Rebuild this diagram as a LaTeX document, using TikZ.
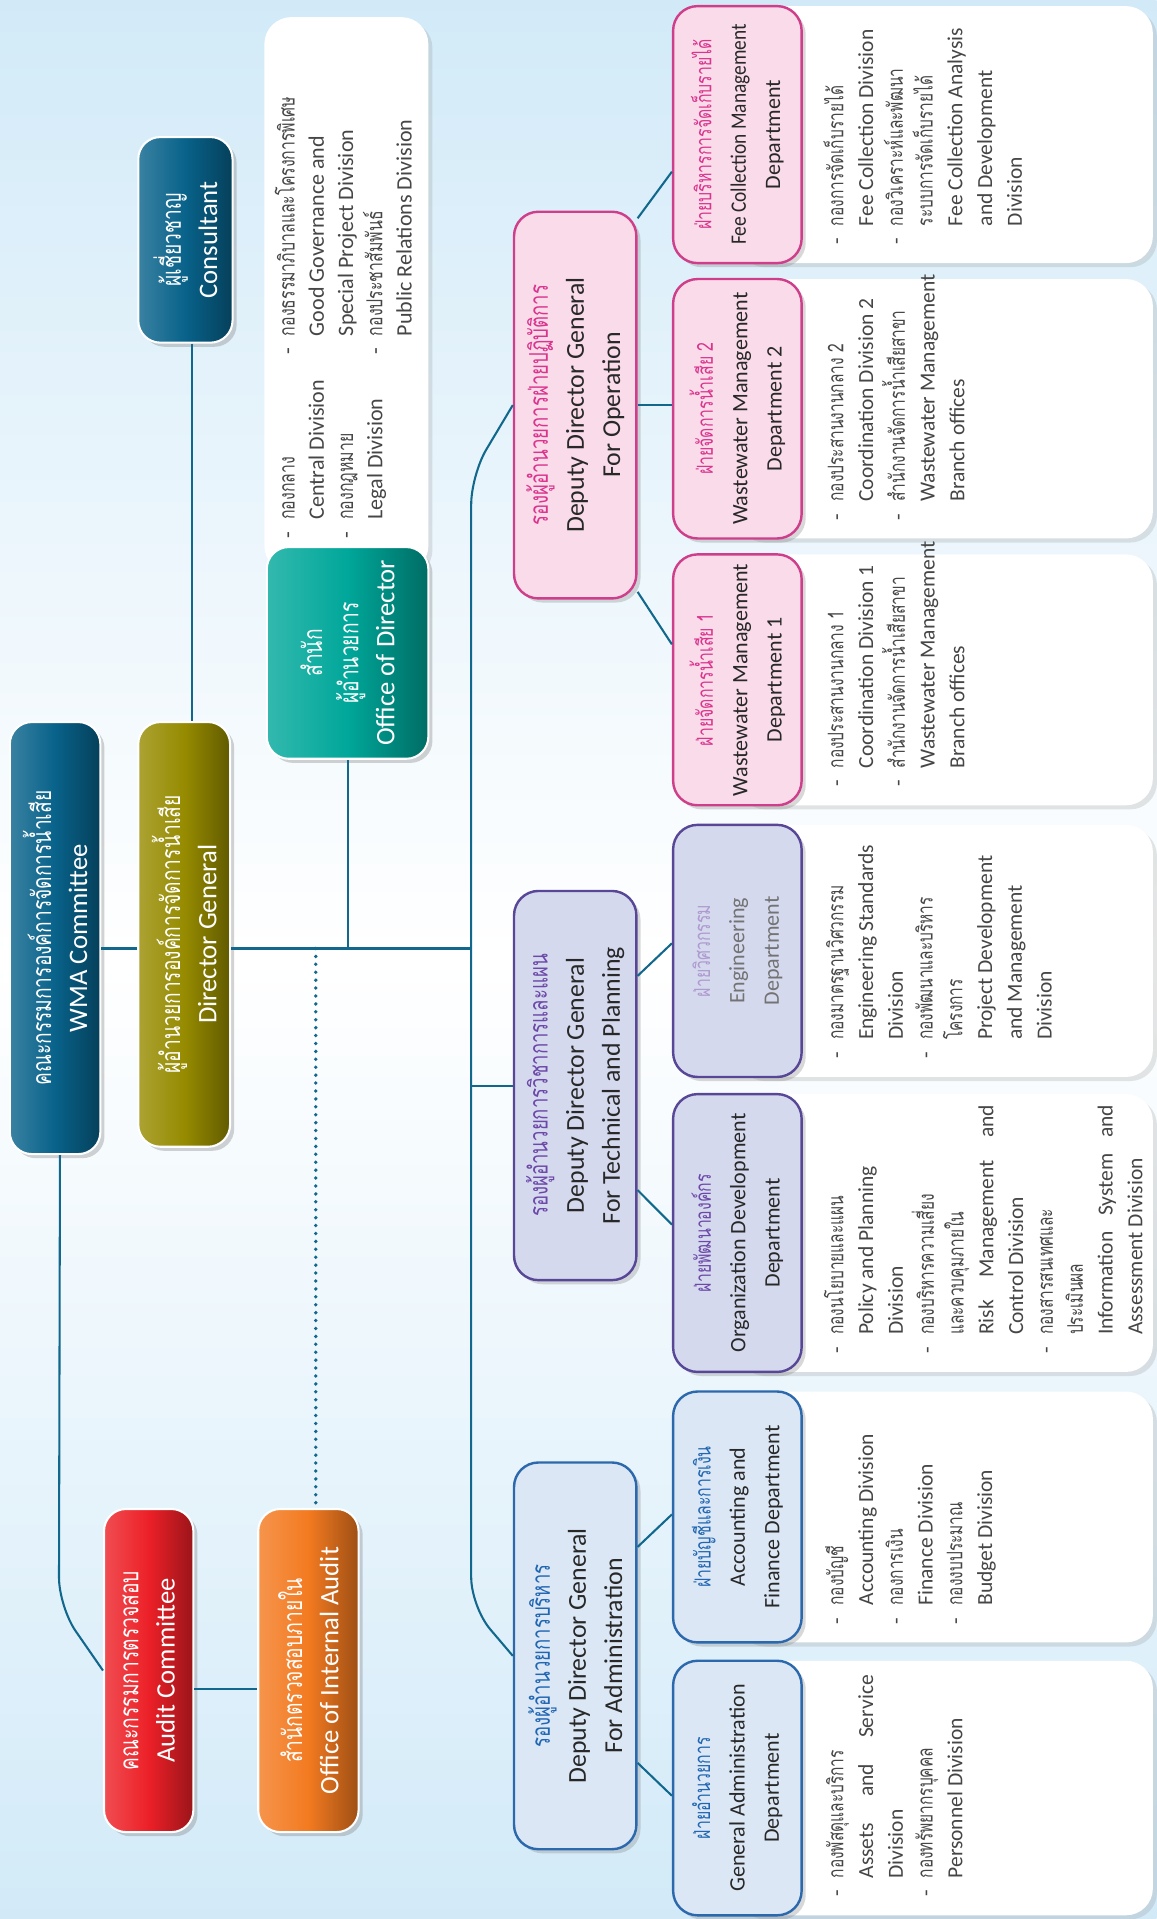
\documentclass[tikz,border=0pt]{standalone}
\usepackage{fontspec}
\setmainfont{Carlito}
\newfontfamily\thaifont[Script=Thai,Scale=1.0,FakeStretch=0.72]{Loma}
\newcommand{\thai}[1]{{\thaifont #1}}
\usetikzlibrary{positioning,calc,shadows}

\definecolor{bgblue}{RGB}{210,234,248}
\definecolor{linkcol}{RGB}{17,104,140}
\definecolor{wmablue}{RGB}{8,98,138}
\definecolor{dgolive}{RGB}{150,139,0}
\definecolor{odteal}{RGB}{0,167,154}
\definecolor{auditred}{RGB}{236,32,39}
\definecolor{iaorange}{RGB}{243,122,32}
\definecolor{admfill}{RGB}{219,231,245}
\definecolor{admline}{RGB}{44,104,172}
\definecolor{admtext}{RGB}{32,102,178}
\definecolor{techfill}{RGB}{213,217,238}
\definecolor{techline}{RGB}{88,70,150}
\definecolor{techtext}{RGB}{108,72,168}
\definecolor{opfill}{RGB}{249,219,233}
\definecolor{opline}{RGB}{206,62,138}
\definecolor{optext}{RGB}{218,52,142}
\definecolor{deptext}{RGB}{40,40,40}
\definecolor{engtext}{RGB}{115,115,115}
\definecolor{divtextcol}{RGB}{70,70,70}

\def\bu{0.025cm}
\tikzstyle{headbox} = [rounded corners=0.45cm, draw=white, line width=1.2pt, text=white,
    align=center, inner sep=0pt, drop shadow={opacity=0.35}, font=\fontsize{15.5}{21}\selectfont]
\tikzstyle{deputy} = [rounded corners=0.5cm, line width=1.4pt, align=center, inner sep=0pt,
    text=deptext, drop shadow={opacity=0.3}, font=\fontsize{15}{21}\selectfont]
\tikzstyle{dept} = [rounded corners=0.5cm, line width=1.4pt, align=center, inner sep=0pt,
    text=deptext, drop shadow={opacity=0.3}, font=\fontsize{12.8}{20}\selectfont]
\tikzstyle{divbox} = [rounded corners=0.55cm, fill=white, drop shadow={opacity=0.2}]
\tikzstyle{divtext} = [inner sep=0pt, align=left, text=divtextcol, font=\fontsize{12.5}{17.3}\selectfont]
\tikzstyle{odivtext} = [inner sep=0pt, align=left, text=divtextcol, font=\fontsize{12.8}{17}\selectfont]
\tikzstyle{connector} = [draw=linkcol, line width=1.2pt]
\tikzstyle{dotline} = [draw=linkcol, line width=2.2pt, line cap=round, dash pattern=on 0pt off 4.6pt]
\tikzset{
  dims/.style 2 args={minimum width=#1*\bu, minimum height=#2*\bu},
  gloss/.style={left color=#1!80!white, right color=#1!65!black, middle color=#1},
  admcol/.style={draw=admline, fill=admfill},
  techcol/.style={draw=techline, fill=techfill},
  opcol/.style={draw=opline, fill=opfill},
}
\newcommand{\divlist}[1]{\begin{tabular}{@{}l@{\hspace{7pt}}l@{}}#1\end{tabular}}

\begin{document}
\begin{tikzpicture}[x=\bu, y=\bu]
	\useasboundingbox (0,0) rectangle (945,1568);
	\shade[top color=bgblue, bottom color=bgblue, middle color=white] (0,0) rectangle (945,1568);
	\begin{scope}[rotate=90, transform shape]
		% white division boxes
		\node[divbox, dims={454}{134}] (odiv) at (1327,-283) {};
		\node[divbox, dims={208}{342}] (gadiv) at (107,-771) {};
		\node[divbox, dims={205}{342}] (accdiv) at (328.5,-771) {};
		\node[divbox, dims={227}{342}] (odddiv) at (560.5,-771) {};
		\node[divbox, dims={206}{342}] (engdiv) at (791,-771) {};
		\node[divbox, dims={205}{342}] (wmadiv) at (1012.5,-771) {};
		\node[divbox, dims={212}{342}] (wmbdiv) at (1234,-771) {};
		\node[divbox, dims={210}{342}] (feediv) at (1458,-771) {};
		
		% top level
		\node[headbox, gloss=wmablue, dims={353}{74}] (wma) at (801.5,-45)
			{\thai{คณะกรรมการองค์การจัดการน้ำเสีย}\\WMA Committee};
		\node[headbox, gloss=dgolive, dims={347}{75}] (dg) at (804.5,-150.5)
			{\thai{ผู้อำนวยการองค์การจัดการน้ำเสีย}\\Director General};
		\node[headbox, gloss=wmablue, dims={168}{77}] (cons) at (1372,-151.5)
			{\thai{ผู้เชี่ยวชาญ}\\Consultant};
		\node[headbox, gloss=odteal, dims={173}{132}] (odir) at (1034.5,-284)
			{\thai{สำนัก}\\\thai{ผู้อำนวยการ}\\Office of Director};
		\node[headbox, gloss=auditred, dims={264}{73}] (audit) at (203,-121.5)
			{\thai{คณะกรรมการตรวจสอบ}\\Audit Committee};
		\node[headbox, gloss=iaorange, dims={264}{82}] (ia) at (203,-252)
			{\thai{สำนักตรวจสอบภายใน}\\Office of Internal Audit};
		
		% deputies
		\node[deputy, admcol, dims={316}{100}] (adm) at (215,-470)
			{\textcolor{admtext}{\thai{รองผู้อำนวยการบริหาร}}\\Deputy Director General\\For Administration};
		\node[deputy, techcol, dims={318}{100}] (tech) at (681,-470)
			{\textcolor{techtext}{\thai{รองผู้อำนวยการวิชาการและแผน}}\\Deputy Director General\\For Technical and Planning};
		\node[deputy, opcol, dims={316}{100}] (op) at (1237,-470)
			{\textcolor{optext}{\thai{รองผู้อำนวยการฝ่ายปฏิบัติการ}}\\Deputy Director General\\For Operation};
		
		% departments
		\node[dept, admcol, dims={208}{105}] (gad) at (107,-602.5)
			{\textcolor{admtext}{\thai{ฝ่ายอำนวยการ}}\\General Administration\\Department};
		\node[dept, admcol, dims={205}{105}] (acc) at (328.5,-602.5)
			{\textcolor{admtext}{\thai{ฝ่ายบัญชีและการเงิน}}\\Accounting and\\Finance Department};
		\node[dept, techcol, dims={227}{105}] (odd) at (560.5,-602.5)
			{\textcolor{techtext}{\thai{ฝ่ายพัฒนาองค์กร}}\\Organization Development\\Department};
		\node[dept, techcol, dims={206}{105}, text=engtext] (eng) at (791,-602.5)
			{\textcolor{techtext!55!white}{\thai{ฝ่ายวิศวกรรม}}\\Engineering\\Department};
		\node[dept, opcol, dims={205}{105}] (wma1) at (1012.5,-602.5)
			{\textcolor{optext}{\thai{ฝ่ายจัดการน้ำเสีย 1}}\\Wastewater Management\\Department 1};
		\node[dept, opcol, dims={212}{105}] (wma2) at (1234,-602.5)
			{\textcolor{optext}{\thai{ฝ่ายจัดการน้ำเสีย 2}}\\Wastewater Management\\Department 2};
		\node[dept, opcol, dims={210}{105}] (fee) at (1458,-602.5)
			{\textcolor{optext}{\thai{ฝ่ายบริหารการจัดเก็บรายได้}}\\\scalebox{0.88}[1]{Fee Collection Management}\\Department};
		
		% division texts
		\node[odivtext, below right=0.2cm and 0.7cm of odiv.north west] (odtxta)
			{\divlist{- & \thai{กองกลาง}\\ & Central Division\\ - & \thai{กองกฎหมาย}\\ & Legal Division}};
		\node[odivtext, below right=0.2cm and 4.45cm of odiv.north west] (odtxtb)
			{\divlist{- & \thai{กองธรรมาภิบาลและโครงการพิเศษ}\\ & Good Governance and\\ & Special Project Division\\
			- & \thai{กองประชาสัมพันธ์}\\ & Public Relations Division}};
		\node[divtext, below right=1.8cm and 0.375cm of gadiv.north west] (gatxt)
			{\divlist{- & \thai{กองพัสดุและบริการ}\\ & \makebox[4.15cm][s]{Assets and Service}\\ & Division\\
			- & \thai{กองทรัพยากรบุคคล}\\ & Personnel Division}};
		\node[divtext, below right=1.8cm and 0.375cm of accdiv.north west] (acctxt)
			{\divlist{- & \thai{กองบัญชี}\\ & Accounting Division\\ - & \thai{กองการเงิน}\\ & Finance Division\\
			- & \thai{กองงบประมาณ}\\ & Budget Division}};
		\node[divtext, below right=1.8cm and 0.375cm of odddiv.north west] (oddtxt)
			{\divlist{- & \thai{กองนโยบายและแผน}\\ & Policy and Planning\\ & Division\\
			- & \thai{กองบริหารความเสี่ยง}\\ & \thai{และควบคุมภายใน}\\ & \makebox[4.7cm][s]{Risk Management and}\\ & Control Division\\
			- & \thai{กองสารสนเทศและ}\\ & \thai{ประเมินผล}\\ & \makebox[4.7cm][s]{Information System and}\\ & Assessment Division}};
		\node[divtext, below right=1.8cm and 0.375cm of engdiv.north west] (engtxt)
			{\divlist{- & \thai{กองมาตรฐานวิศวกรรม}\\ & Engineering Standards\\ & Division\\
			- & \thai{กองพัฒนาและบริหาร}\\ & \thai{โครงการ}\\ & Project Development\\ & and Management\\ & Division}};
		\node[divtext, below right=1.8cm and 0.375cm of wmadiv.north west] (wmatxt)
			{\divlist{- & \thai{กองประสานงานกลาง 1}\\ & Coordination Division 1\\
			- & \thai{สำนักงานจัดการน้ำเสียสาขา}\\ & Wastewater Management\\ & Branch offices}};
		\node[divtext, below right=1.8cm and 0.375cm of wmbdiv.north west] (wmbtxt)
			{\divlist{- & \thai{กองประสานงานกลาง 2}\\ & Coordination Division 2\\
			- & \thai{สำนักงานจัดการน้ำเสียสาขา}\\ & Wastewater Management\\ & Branch offices}};
		\node[divtext, below right=1.8cm and 0.375cm of feediv.north west] (feetxt)
			{\divlist{- & \thai{กองการจัดเก็บรายได้}\\ & Fee Collection Division\\
			- & \thai{กองวิเคราะห์และพัฒนา}\\ & \thai{ระบบการจัดเก็บรายได้}\\ & Fee Collection Analysis\\ & and Development\\ & Division}};
		
		% connectors
		\coordinate (hub) at (793,-386);
		\coordinate (cl) at (0,-157);
		\coordinate (al) at (0,-49);
		\coordinate (dl) at (0,-258);
		\draw[connector] (cons.west |- cl) -- (dg.east |- cl);
		\draw[connector] (hub |- wma.south) -- (hub |- dg.north);
		\draw[connector] (hub |- dg.south) -- (hub);
		\draw[connector] (odir.west) -- (hub |- odir.west);
		\draw[dotline] (hub |- dl) -- (ia.east |- dl);
		\draw[connector, rounded corners=0.6cm] (wma.west |- al) -- ($(audit.north)+(52,36)$) -- (audit.north);
		\draw[connector] ($(audit.south)+(-15,0)$) -- ($(ia.north)+(-15,0)$);
		\draw[connector, rounded corners=0.6cm] (adm.north) -- ++(40,34) -- ($(op.north)+(-57,34)$) -- (op.north);
		\draw[connector] (tech.north |- hub) -- (tech.north);
		\draw[connector] ($(adm.south west)!0.78!(adm.south east)$) -- ($(acc.north west)!0.51!(acc.north east)$);
		\draw[connector] ($(adm.south west)!0.225!(adm.south east)$) -- ($(gad.north west)!0.47!(gad.north east)$);
		\draw[connector] ($(tech.south west)!0.233!(tech.south east)$) -- ($(odd.north west)!0.53!(odd.north east)$);
		\draw[connector] ($(tech.south west)!0.78!(tech.south east)$) -- ($(eng.north west)!0.53!(eng.north east)$);
		\draw[connector] ($(op.south west)!0.02!(op.south east)$) -- ($(wma1.north west)!0.64!(wma1.north east)$);
		\draw[connector] (op.south) -- (op.south |- wma2.north);
		\draw[connector] ($(op.south west)!0.98!(op.south east)$) -- ($(fee.north west)!0.357!(fee.north east)$);
	\end{scope}
\end{tikzpicture}
\end{document}
